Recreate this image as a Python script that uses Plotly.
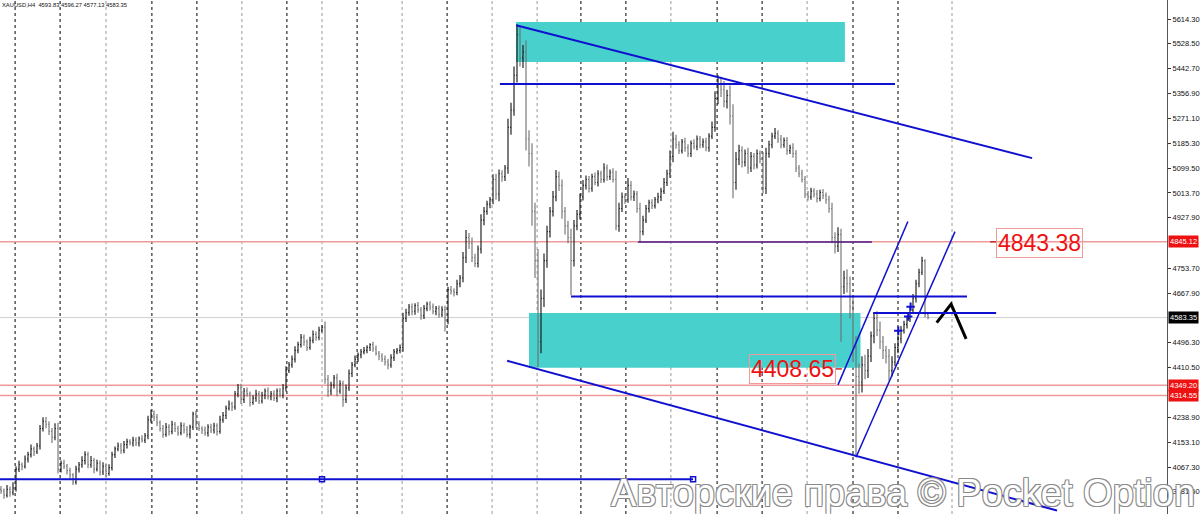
import plotly.graph_objects as go

# H4 closes, one per bar
closes = [
    3985, 3970, 3990, 3980, 3995, 4060, 4075, 4070, 4095, 4110,
    4130, 4120, 4140, 4200, 4225, 4215, 4190, 4170, 4200, 4060,
    4080, 4070, 4055, 4040, 4015, 4060, 4075, 4090, 4110, 4075,
    4090, 4060, 4080, 4050, 4070, 4045, 4065, 4110, 4130, 4140,
    4125, 4145, 4155, 4150, 4160, 4150, 4165, 4160, 4175, 4230,
    4250, 4240, 4220, 4200, 4180, 4205, 4190, 4215, 4200, 4185,
    4210, 4195, 4180, 4205, 4250, 4215, 4200, 4195, 4185, 4205,
    4195, 4210, 4190, 4230, 4245, 4270, 4285, 4275, 4320, 4340,
    4300, 4330, 4320, 4290, 4305, 4320, 4295, 4315, 4330, 4310,
    4320, 4305, 4330, 4315, 4340, 4400, 4420, 4440, 4470, 4490,
    4515, 4500, 4480, 4505, 4525, 4515, 4540, 4550, 4370, 4330,
    4350, 4375, 4330, 4355, 4300, 4340, 4390, 4420, 4440, 4455,
    4465, 4470, 4480, 4490, 4475, 4460, 4450, 4440, 4430, 4420,
    4445, 4465, 4470, 4480, 4580, 4600, 4620, 4605, 4625, 4610,
    4590, 4615, 4630, 4620, 4605, 4615, 4595, 4610, 4575, 4680,
    4675, 4670, 4700, 4720, 4790, 4860, 4840, 4790, 4770, 4820,
    4920, 4950, 4975, 4990, 5060, 5010, 5080, 5070, 5100, 5240,
    5300, 5420, 5560, 5480, 5500, 5200, 5150, 4950, 4780, 4500,
    4650, 4780, 4880, 4950, 5000, 5070, 5040, 4950, 4900, 4860,
    4780, 4900, 4940, 5000, 5040, 5060, 5030, 5070, 5050, 5080,
    5060, 5100, 5070, 5085, 5060, 4900, 4960, 5000, 4990, 5040,
    5000, 5010, 4960, 4880, 4920, 4960, 4980, 4970, 4990, 5000,
    5020, 5050, 5080, 5140, 5200, 5180, 5160, 5190, 5170, 5150,
    5185, 5175, 5200, 5180, 5190, 5170, 5210, 5240, 5340, 5390,
    5370, 5330, 5350, 5280, 5050, 5130, 5160, 5120, 5150, 5100,
    5140, 5110, 5150, 5130, 5030, 5150, 5180, 5210, 5220, 5200,
    5180, 5195, 5160, 5170, 5150, 5100, 5080, 5060, 5010, 5000,
    5020, 5010, 4995, 5015, 5005, 4990, 4960, 4860, 4830, 4870,
    4690, 4720, 4700, 4620, 4480, 4380, 4360, 4420, 4400, 4450,
    4520, 4580, 4540, 4500, 4470, 4450, 4400, 4430, 4480, 4510,
    4540, 4560, 4580, 4610, 4650, 4700, 4740, 4780, 4593.83, 4583.35,
]
first_open = 3990

# wick above the body / below the body for each bar
wick_up = [
    12, 8, 15, 10, 20, 10, 14, 8, 12, 10,
    15, 8, 10, 12, 14, 15, 10, 12, 18, 20,
    10, 12, 8, 10, 6, 12, 10, 14, 12, 10,
    15, 8, 12, 10, 14, 8, 12, 10, 8, 12,
    10, 12, 10, 8, 12, 10, 8, 12, 10, 14,
    15, 12, 10, 8, 12, 14, 10, 12, 8, 10,
    12, 10, 14, 8, 8, 12, 10, 8, 12, 10,
    12, 10, 8, 14, 12, 10, 12, 8, 10, 14,
    15, 10, 12, 8, 10, 14, 10, 12, 8, 12,
    10, 12, 8, 10, 14, 15, 10, 12, 14, 10,
    12, 10, 8, 12, 14, 10, 12, 8, 20, 15,
    12, 10, 14, 12, 10, 12, 14, 10, 12, 8,
    10, 12, 8, 5, 10, 12, 8, 10, 12, 10,
    12, 10, 8, 10, 20, 14, 10, 12, 8, 12,
    10, 12, 8, 10, 12, 8, 10, 12, 14, 10,
    12, 10, 14, 10, 20, 26, 15, 20, 14, 12,
    20, 15, 12, 10, 18, 20, 15, 12, 10, 30,
    25, 30, 35, 30, 25, 40, 30, 35, 30, 40,
    30, 25, 20, 15, 20, 23, 18, 20, 15, 18,
    30, 20, 15, 12, 18, 14, 12, 10, 14, 12,
    10, 16, 12, 10, 14, 30, 20, 15, 12, 25,
    15, 12, 10, 20, 15, 12, 10, 12, 10, 14,
    12, 15, 14, 20, 25, 15, 12, 10, 14, 12,
    10, 14, 12, 10, 12, 14, 10, 20, 25, 30,
    25, 30, 20, 35, 40, 25, 20, 15, 14, 20,
    15, 12, 14, 10, 25, 20, 14, 12, 18, 10,
    14, 10, 12, 10, 15, 12, 10, 14, 12, 10,
    12, 10, 14, 10, 12, 10, 14, 20, 18, 25,
    20, 25, 30, 25, 30, 40, 45, 30, 35, 25,
    15, 20, 25, 30, 20, 15, 25, 20, 15, 12,
    14, 12, 10, 12, 15, 14, 12, 13, 5, 2.44,
]
wick_down = [
    10, 12, 8, 15, 10, 12, 10, 14, 8, 12,
    10, 15, 8, 12, 10, 14, 12, 20, 10, 15,
    12, 10, 14, 12, 10, 8, 12, 10, 14, 12,
    10, 14, 8, 12, 10, 12, 8, 10, 12, 8,
    12, 10, 14, 8, 12, 10, 12, 8, 10, 12,
    10, 14, 12, 10, 12, 8, 14, 10, 12, 10,
    8, 12, 10, 14, 10, 12, 8, 14, 10, 12,
    10, 12, 14, 8, 10, 12, 8, 14, 10, 12,
    15, 12, 10, 14, 8, 12, 10, 8, 14, 10,
    12, 10, 14, 8, 10, 12, 8, 10, 12, 10,
    10, 14, 12, 8, 10, 12, 10, 8, 15, 20,
    14, 12, 18, 10, 25, 12, 10, 12, 8, 10,
    12, 8, 10, 12, 10, 8, 14, 10, 12, 15,
    10, 12, 8, 10, 15, 12, 10, 14, 12, 10,
    14, 12, 10, 12, 10, 14, 12, 10, 40, 15,
    12, 14, 10, 12, 15, 18, 20, 15, 12, 14,
    15, 18, 12, 14, 15, 20, 25, 18, 15, 20,
    25, 20, 25, 30, 35, 40, 45, 50, 60, 87,
    40, 30, 25, 20, 18, 15, 20, 25, 30, 20,
    120, 20, 15, 18, 12, 14, 15, 12, 10, 14,
    12, 10, 14, 12, 10, 15, 20, 12, 14, 10,
    12, 14, 15, 37, 12, 10, 14, 12, 10, 12,
    14, 10, 12, 15, 20, 14, 12, 10, 14, 12,
    12, 10, 14, 12, 10, 12, 14, 10, 15, 20,
    25, 20, 25, 30, 55, 25, 20, 18, 15, 20,
    14, 15, 12, 14, 18, 20, 15, 12, 10, 14,
    12, 10, 14, 12, 15, 14, 12, 10, 14, 12,
    10, 12, 14, 10, 12, 14, 15, 20, 25, 20,
    190, 25, 30, 40, 50, 278, 40, 35, 30, 25,
    20, 25, 20, 25, 30, 25, 35, 20, 15, 20,
    15, 12, 14, 12, 10, 15, 12, 10, 10, 6.22,
]

axis_ticks = [5614.30, 5528.50, 5442.70, 5356.90, 5271.10, 5185.30, 5099.50,
              5013.70, 4927.90, 4753.70, 4667.90, 4496.30, 4410.50, 4238.90,
              4153.10, 4067.30, 3981.50]
red_levels = [4845.12, 4349.20, 4314.55]
bid = 4583.35

# trade marks near the last bars
cross_x = [299.1, 302.4, 303.2]
cross_y = [4538, 4587, 4621]

# period separators (bar index) and whether drawn dark
sep_x = [4.7, 19.7, 35, 50.3, 65.3, 80.3, 95.3, 107, 118.7, 133.7, 148.7,
         163.7, 178.7, 193.3, 208.3, 223.3, 238.7, 253.7, 268.7, 284, 299, 317]
sep_dark = [1, 1, 0, 1, 1, 0, 1, 0, 1, 0, 1, 0, 0, 1, 1, 0, 1, 1, 0, 1, 1, 0]

idx = list(range(len(closes)))
opens = [first_open] + closes[:-1]
highs = [max(o, c) + w for o, c, w in zip(opens, closes, wick_up)]
lows = [min(o, c) - w for o, c, w in zip(opens, closes, wick_down)]

fig = go.Figure()
fig.add_trace(go.Ohlc(x=idx, open=opens, high=highs, low=lows, close=closes,
                      increasing_line_color="#111111", decreasing_line_color="#6e6e6e",
                      line_width=1.1, tickwidth=0.3, showlegend=False, hoverinfo="skip"))

shapes = []
for x, d in zip(sep_x, sep_dark):
    shapes.append(dict(type="line", xref="x", yref="paper", x0=x, x1=x, y0=0, y1=1, layer="below",
                       line=dict(color="#000000" if d else "#9a9a9a", width=1, dash="3px,3px")))
# zones
for y0, y1, x0, x1 in [(5466, 5604, 171.7, 281.3), (4410, 4599, 176, 286.5)]:
    shapes.append(dict(type="rect", x0=x0, x1=x1, y0=y0, y1=y1, layer="below",
                       fillcolor="#48D1CC", line=dict(width=0)))
# horizontal levels
for lv in red_levels:
    shapes.append(dict(type="line", xref="paper", x0=0, x1=1, y0=lv, y1=lv, layer="below",
                       line=dict(color="#ee9a9a", width=1.5)))
shapes.append(dict(type="line", xref="paper", x0=0, x1=1, y0=bid, y1=bid, layer="below",
                   line=dict(color="#d0d0d0", width=1)))

blue = "#1010d0"
lines = [
    (171.7, 5593, 343.7, 5134, 2),     # upper channel
    (168.7, 4434, 352, 3917, 2),       # lower channel
    (166.3, 5390, 298, 5390, 2),
    (190, 4656, 322, 4656, 2),
    (290.7, 4599, 331.7, 4599, 2),
    (-0.4, 4025, 230.7, 4025, 2),
    (279, 4351, 302.3, 4915, 1.5),     # rising channel
    (285, 4101, 318, 4880, 1.5),
]
for x0, y0, x1, y1, w in lines:
    shapes.append(dict(type="line", x0=x0, y0=y0, x1=x1, y1=y1, line=dict(color=blue, width=w)))
shapes.append(dict(type="line", x0=212.3, y0=4844, x1=290.3, y1=4844, line=dict(color="#4b1a8a", width=1.5)))
# label stubs
shapes.append(dict(type="line", x0=329.7, x1=331.9, y0=4845, y1=4845, line=dict(color="#c03030", width=1.5)))
shapes.append(dict(type="line", x0=278.3, x1=280.3, y0=4406, y1=4406, line=dict(color="#c03030", width=1.5)))

fig.add_trace(go.Scatter(x=[230.7, 107], y=[4025, 4025], mode="markers", showlegend=False, hoverinfo="skip",
                         marker=dict(symbol="square-open", size=5, color=blue, line=dict(width=1.5))))
fig.add_trace(go.Scatter(x=cross_x, y=cross_y, mode="markers", showlegend=False, hoverinfo="skip",
                         marker=dict(symbol="cross-thin", size=6, line=dict(color=blue, width=2))))
# hand-drawn caret
fig.add_trace(go.Scatter(x=[311.9, 316.7, 321.7], y=[4566, 4630, 4510], mode="lines", showlegend=False,
                         hoverinfo="skip", line=dict(color="black", width=3)))

ann = []
ann.append(dict(xref="paper", yref="paper", x=0, y=1, xanchor="left", yanchor="top", showarrow=False,
                text="XAUUSD,H4  4593.83 4596.27 4577.13 4583.35", font=dict(size=5.8, color="#111")))
for txt, xc, yc in [("4843.38", 346, 4841), ("4408.65", 263.8, 4406)]:
    ann.append(dict(x=xc, y=yc, text=txt, showarrow=False, font=dict(size=23, color="#ee1111",
                    family="Liberation Sans"), bordercolor="#f09a9a", borderwidth=1, borderpad=1,
                    bgcolor="rgba(255,255,255,0)"))
for lv in red_levels:
    ann.append(dict(xref="paper", x=1, xanchor="left", xshift=1, y=lv, text="%.2f" % lv, showarrow=False,
                    bgcolor="#ee1111", font=dict(size=7.5, color="white"), borderpad=1))
ann.append(dict(xref="paper", x=1, xanchor="left", xshift=1, y=bid, text="%.2f" % bid, showarrow=False,
                bgcolor="#000000", font=dict(size=7.5, color="white"), borderpad=1))
ann.append(dict(xref="paper", yref="paper", x=0.774, y=0.041, xanchor="center", yanchor="middle",
                text="Авторские права © Pocket Option",
                showarrow=False, font=dict(size=38, color="white", family="Liberation Sans",
                shadow="1px 1px 0 #8a8a8a, -1px -1px 0 #8a8a8a, 1px -1px 0 #8a8a8a, -1px 1px 0 #8a8a8a")))

fig.update_layout(
    width=1200, height=514, margin=dict(l=0, r=33, t=0, b=0),
    paper_bgcolor="white", plot_bgcolor="white",
    font=dict(family="Liberation Sans", color="#111"),
    shapes=shapes, annotations=ann, showlegend=False,
    xaxis=dict(range=[-1 / 3, 1166 / 3], showgrid=False, zeroline=False, showticklabels=False,
               rangeslider=dict(visible=False), fixedrange=True),
    yaxis=dict(range=[3905, 5680], side="right", showgrid=False, zeroline=False,
               tickvals=axis_ticks, ticktext=["%.2f" % v for v in axis_ticks],
               ticks="outside", ticklen=3, tickcolor="#333", showline=True, linecolor="#555",
               tickfont=dict(size=7.5, color="#111")),
)

fig.write_html("out.html", config={"displayModeBar": False},
               post_script="document.body.style.margin='0';document.body.style.overflow='hidden';")
